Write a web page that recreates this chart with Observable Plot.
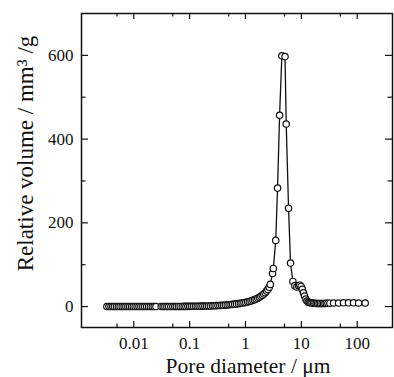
<!DOCTYPE html>
<html>
<head>
<meta charset="utf-8">
<script src="https://cdn.jsdelivr.net/npm/d3@7"></script>
<script src="https://cdn.jsdelivr.net/npm/@observablehq/plot@0.6"></script>
<style>
  html, body { margin: 0; padding: 0; background: #fff; }
  #chart svg text { font-family: "Liberation Serif", "Times New Roman", serif; }
</style>
</head>
<body>
<div id="chart"></div>
<script>
// Pore diameter (µm)
const diameter = [
  0.0033, 0.0036, 0.0039, 0.0042, 0.0045, 0.0049, 0.0053, 0.0057, 0.0062, 0.0067,
  0.0072, 0.0078, 0.0084, 0.0091, 0.0098, 0.0106, 0.0115, 0.0124, 0.0134, 0.0145,
  0.0157, 0.0170, 0.0184, 0.0199, 0.0215, 0.0232, 0.025, 0.031, 0.0335, 0.036,
  0.039, 0.042, 0.046, 0.050, 0.054, 0.058, 0.063, 0.068, 0.074, 0.080,
  0.086, 0.093, 0.100, 0.108, 0.117, 0.127, 0.137, 0.148, 0.160, 0.173,
  0.187, 0.202, 0.218, 0.236, 0.255, 0.275, 0.297, 0.321, 0.347, 0.375,
  0.405, 0.437, 0.472, 0.51, 0.55, 0.59, 0.64, 0.69, 0.75, 0.81,
  0.87, 0.94, 1.01, 1.09, 1.17, 1.26, 1.35, 1.45, 1.55, 1.66,
  1.77, 1.88, 2.0, 2.12, 2.25, 2.38, 2.52, 2.66, 2.78, 3.05,
  3.15, 3.48, 3.75, 4.08, 4.48, 5.1, 5.36, 5.9, 6.4, 7.05,
  7.65, 8.3, 8.9, 9.4, 9.9, 10.4, 10.9, 11.4, 12.0, 12.6,
  13.3, 14.0, 14.8, 15.6, 16.5, 17.5, 18.5, 19.6, 20.8, 22,
  23.5, 25, 26.5, 28, 30, 32.5, 37.8, 46.4, 56.9, 70,
  86, 106, 139
];
// Relative volume (mm³/g)
const volume = [
  0, 0, 0, 0, 0, 0, 0, 0, 0, 0,
  0, 0, 0, 0, 0, 0, 0, 0, 0, 0,
  0, 0, 0, 0, 0, 0, 0, 0, 0, 0,
  0.1, 0.1, 0.1, 0.2, 0.2, 0.2, 0.3, 0.3, 0.3, 0.4,
  0.4, 0.5, 0.5, 0.6, 0.6, 0.7, 0.8, 0.9, 1.0, 1.1,
  1.2, 1.3, 1.5, 1.6, 1.8, 2.0, 2.2, 2.4, 2.6, 2.9,
  3.2, 3.5, 3.9, 4.3, 4.8, 5.3, 5.8, 6.4, 7.0, 7.7,
  8.4, 9.2, 10, 11, 12, 13.5, 15, 16.5, 18, 20,
  22, 24.5, 27, 30, 33, 37, 41, 46, 53, 79,
  91, 158, 283, 457, 599, 597, 436, 235, 104, 60,
  50, 47, 50, 51, 48, 41, 33, 25, 18, 13,
  10.5, 9.5, 9, 8.5, 8, 8, 7.5, 7.5, 7.5, 7.5,
  7.5, 7.5, 7.5, 8, 8, 8, 8.5, 8.5, 9, 9,
  9, 8.5, 8.5
];

const xMajor = [0.01, 0.1, 1, 10, 100];
const xMinor = [0.005, 0.05, 0.5, 5, 50];
const yMajor = [0, 200, 400, 600];
const yMinor = [100, 300, 500];
const xTitle = "Pore diameter / μm";
const yTitle = "Relative volume / mm³ /g";

const data = diameter.map((d, i) => ({d, v: volume[i]}));

const W = 394, H = 377, ML = 81, MR = 2, MT = 13, MB = 50;
const FW = W - ML - MR, FH = H - MT - MB;
const ink = "#111";
const serif = "'Liberation Serif', 'Times New Roman', serif";

const chart = Plot.plot({
  width: W,
  height: H,
  marginLeft: ML,
  marginRight: MR,
  marginTop: MT,
  marginBottom: MB,
  style: {fontFamily: serif, fontSize: "17px", color: ink, background: "#fff"},
  x: {type: "log", domain: [0.001159, 428.5], axis: null},
  y: {domain: [-50, 700], axis: null},
  marks: [
    Plot.frame({stroke: ink, strokeWidth: 1.5}),
    // inward ticks: bottom, top, left, right
    Plot.tickX(xMajor, {x: d => d, insetTop: FH - 6, stroke: ink, strokeWidth: 1.2}),
    Plot.tickX(xMinor, {x: d => d, insetTop: FH - 3.5, stroke: ink, strokeWidth: 1.2}),
    Plot.tickX(xMajor, {x: d => d, insetBottom: FH - 6, stroke: ink, strokeWidth: 1.2}),
    Plot.tickX(xMinor, {x: d => d, insetBottom: FH - 3.5, stroke: ink, strokeWidth: 1.2}),
    Plot.tickY(yMajor, {y: d => d, insetRight: FW - 7, stroke: ink, strokeWidth: 1.2}),
    Plot.tickY(yMinor, {y: d => d, insetRight: FW - 4.5, stroke: ink, strokeWidth: 1.2}),
    Plot.tickY(yMajor, {y: d => d, insetLeft: FW - 7, stroke: ink, strokeWidth: 1.2}),
    Plot.tickY(yMinor, {y: d => d, insetLeft: FW - 4.5, stroke: ink, strokeWidth: 1.2}),
    // tick labels
    Plot.text(xMajor, {x: d => d, frameAnchor: "bottom", text: d => String(d), textAnchor: "middle", lineAnchor: "top", dy: 9, fontSize: 17, fontFamily: serif, fill: ink}),
    Plot.text(yMajor, {y: d => d, frameAnchor: "left", text: d => String(d), textAnchor: "end", lineAnchor: "middle", dx: -8, fontSize: 17, fontFamily: serif, fill: ink}),
    // data
    Plot.line(data, {x: "d", y: "v", stroke: ink, strokeWidth: 1.3}),
    Plot.dot(data, {x: "d", y: "v", r: 3.2, fill: "white", stroke: ink, strokeWidth: 1.2}),
    // axis titles
    Plot.text([xTitle], {frameAnchor: "bottom", text: d => d, textAnchor: "middle", lineAnchor: "middle", dx: 11, dy: 39, fontSize: 21.5, fontFamily: serif, fill: ink}),
    Plot.text([yTitle], {frameAnchor: "left", text: d => d, textAnchor: "middle", lineAnchor: "middle", rotate: -90, dx: -56, dy: -17, fontSize: 23, fontFamily: serif, fill: ink})
  ]
});
document.getElementById("chart").appendChild(chart);
</script>
</body>
</html>
